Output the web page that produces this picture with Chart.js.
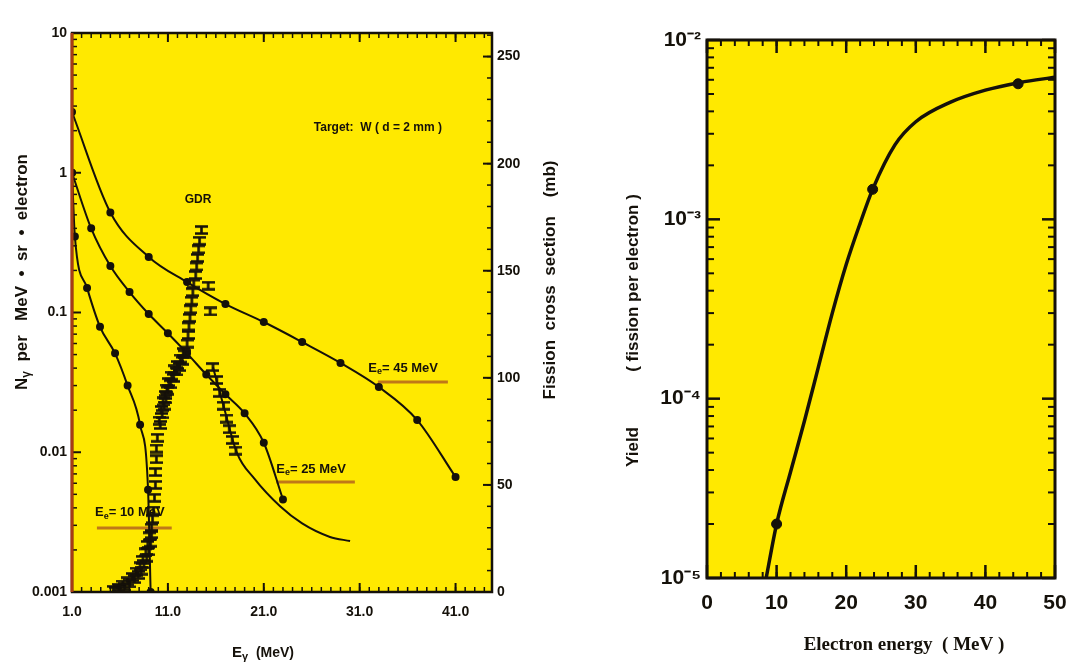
<!DOCTYPE html>
<html><head><meta charset="utf-8">
<script src="https://cdn.jsdelivr.net/npm/chart.js@4.4.1/dist/chart.umd.min.js"></script>
<style>
html,body{margin:0;padding:0;background:#fff;width:1068px;height:670px;overflow:hidden}
canvas{position:absolute;top:0}
#c1{left:0}
#c2{left:575px}
</style></head><body>
<canvas id="c1" width="575" height="670"></canvas>
<canvas id="c2" width="493" height="670"></canvas>
<script>
// ---------- data: left panel (photon spectra, N_gamma per MeV.sr.electron) ----------
const e45E = [1, 5, 9, 13, 17, 21, 25, 29, 33, 37, 41];
const e45N = [2.72, 0.52, 0.25, 0.165, 0.115, 0.0855, 0.0615, 0.0436, 0.0293, 0.017, 0.00665];
const e25E = [1, 3, 5, 7, 9, 11, 13, 15, 17, 19, 21, 23];
const e25N = [1.0, 0.40, 0.215, 0.14, 0.0975, 0.071, 0.051, 0.036, 0.026, 0.019, 0.0117, 0.0046];
const e10E = [1, 1.3, 2.57, 3.92, 5.49, 6.8, 8.1, 8.93, 9.2];
const e10N = [1.0, 0.35, 0.15, 0.079, 0.051, 0.03, 0.0157, 0.0054, 0.001];
// GDR photofission cross-section data (mb, right axis)
const gdrE = [5.3, 5.5, 5.8, 6.0, 6.3, 6.5, 6.8, 7.0, 7.3, 7.5, 7.7, 7.9, 8.1, 8.2, 8.4, 8.5, 8.7, 8.8, 8.9, 9.0, 9.1, 9.2, 9.3, 9.3, 9.4, 9.5,
  9.6, 9.7, 9.7, 9.8, 9.8, 9.9,
  10.1, 10.2, 10.3, 10.4, 10.5, 10.6, 10.7, 10.8, 10.9, 11.0, 11.1, 11.3, 11.4, 11.6, 11.7, 11.9, 12.0, 12.2, 12.3, 12.5, 12.6, 12.7,
  13.0, 13.1, 13.2, 13.3, 13.4, 13.5, 13.6, 13.7, 13.9, 14.0, 14.1, 14.2, 14.3, 14.5,
  15.2, 15.4,
  15.7, 16.1, 16.4, 16.8, 17.1, 17.4, 17.7, 18.1];
const gdrMb = [1, 0.5, 2, 1.5, 3.5, 2.5, 5, 4, 7, 6, 9.5, 8, 12, 10, 15, 13, 18.5, 16, 22, 19, 26, 23, 30, 27, 34, 38,
  44, 50, 56, 62, 67, 72,
  80, 78, 85, 83, 89, 87, 92, 90, 95, 94, 98, 97, 101, 100, 104, 103, 106, 105, 109, 108, 112, 111,
  116, 120, 124, 128, 132, 136, 140, 144, 148, 152, 156, 160, 164, 169,
  143, 131,
  105, 99, 93, 87, 81, 76, 71, 66];
const fitE = [15.7, 16.8, 18.2, 20, 22.7, 25, 27.9, 30];
const fitMb = [105, 87, 65, 53, 40, 32, 25.7, 23.8];
// tick labels left panel
const leftXTicks = [1, 11, 21, 31, 41];
const leftYTicks = [0.001, 0.01, 0.1, 1, 10];
const leftYLabels = ['0.001', '0.01', '0.1', '1', '10'];
const sigmaTicks = [0, 50, 100, 150, 200, 250];

// ---------- data: right panel (fission yield per electron) ----------
const yieldE = [8.5, 10, 12, 14, 16, 18, 20, 22, 23.8, 27, 30, 35, 40, 45, 50];
const yieldV = [1.0e-5, 2.0e-5, 3.9e-5, 7.5e-5, 1.5e-4, 3.0e-4, 5.6e-4, 9.5e-4, 1.47e-3, 2.6e-3, 3.5e-3, 4.5e-3, 5.25e-3, 5.8e-3, 6.2e-3];
const yieldPtE = [10, 23.8, 44.7];
const yieldPtV = [2.0e-5, 1.47e-3, 5.7e-3];
const yieldXTicks = [0, 10, 20, 30, 40, 50];
const yieldYTicks = [1e-5, 1e-4, 1e-3, 1e-2];
const yieldYLabels = ['10\u207B\u2075', '10\u207B\u2074', '10\u207B\u00B3', '10\u207B\u00B2'];

// ---------- styles ----------
const INK = '#15110a';
const YEL = '#FFE900';
const B = s => `bold ${s}px 'Liberation Sans', Arial, sans-serif`;
const BS = s => `bold ${s}px 'Liberation Serif', 'Times New Roman', serif`;
const pts = (xs, ys) => xs.map((x, i) => ({x, y: ys[i]}));

function richText(ctx, parts, x, y, align, rot) {
  ctx.save(); ctx.translate(x, y); if (rot) ctx.rotate(rot);
  let w = 0; for (const p of parts) { ctx.font = p.f; w += ctx.measureText(p.t).width; }
  let cx = align === 'center' ? -w / 2 : align === 'right' ? -w : 0;
  ctx.textBaseline = 'middle'; ctx.textAlign = 'left'; ctx.fillStyle = INK;
  for (const p of parts) { ctx.font = p.f; ctx.fillText(p.t, cx, p.dy || 0); cx += ctx.measureText(p.t).width; }
  ctx.restore();
}
function inward(ctx, a, s, side, values, len, lw) {
  ctx.lineWidth = lw;
  for (const v of values) {
    const p = s.getPixelForValue(v);
    ctx.beginPath();
    if (side === 'bottom') { ctx.moveTo(p, a.bottom); ctx.lineTo(p, a.bottom - len); }
    if (side === 'top') { ctx.moveTo(p, a.top); ctx.lineTo(p, a.top + len); }
    if (side === 'left') { ctx.moveTo(a.left, p); ctx.lineTo(a.left + len, p); }
    if (side === 'right') { ctx.moveTo(a.right, p); ctx.lineTo(a.right - len, p); }
    ctx.stroke();
  }
}
function logMinor(lo, hi) { const r = []; for (let d = lo; d < hi; d *= 10) for (let k = 2; k <= 9; k++) r.push(d * k); return r; }
function range(a, b, st) { const r = []; for (let v = a; v <= b + 1e-9; v += st) r.push(v); return r; }

// error-bar glyph for GDR data
const bar = document.createElement('canvas'); bar.width = 13; bar.height = 10;
(() => { const g = bar.getContext('2d'); g.strokeStyle = INK; g.lineWidth = 2.6;
  g.beginPath(); g.moveTo(0, 1.5); g.lineTo(13, 1.5); g.moveTo(0, 8.5); g.lineTo(13, 8.5); g.moveTo(6.5, 1); g.lineTo(6.5, 9); g.stroke(); })();

// ---------- left panel plugin ----------
const leftPlugin = {
  id: 'leftDeco',
  beforeDraw(chart) {
    const {ctx, chartArea: a} = chart;
    ctx.save(); ctx.fillStyle = YEL; ctx.fillRect(a.left, a.top, a.right - a.left, a.bottom - a.top); ctx.restore();
  },
  beforeDatasetsDraw(chart) {
    const {ctx, scales: {x, y}} = chart;
    const X = v => x.getPixelForValue(v), Y = v => y.getPixelForValue(v);
    richText(ctx, [{t: 'Target:  W ( d = 2 mm )', f: B(12)}], X(32.9), Y(2.09), 'center');
    richText(ctx, [{t: 'GDR', f: B(12)}], X(14.15), Y(0.64), 'center');
    const lab = (txt, ex, ey, u1, u2, uy) => {
      richText(ctx, [{t: 'E', f: B(13)}, {t: 'e', f: B(9), dy: 4}, {t: '= ' + txt, f: B(13)}], X(ex), Y(ey), 'left');
      ctx.save(); ctx.strokeStyle = '#c07818'; ctx.lineWidth = 3;
      ctx.beginPath(); ctx.moveTo(X(u1), Y(uy)); ctx.lineTo(X(u2), Y(uy)); ctx.stroke(); ctx.restore();
    };
    lab('45 MeV', 31.9, 0.0401, 32.9, 40.2, 0.0318);
    lab('25 MeV', 22.3, 0.00759, 22.3, 30.5, 0.00612);
    lab('10 MeV', 3.4, 0.00373, 3.6, 11.4, 0.00287);
  },
  afterDatasetsDraw(chart) {
    const {ctx, chartArea: a, scales: {x, y, y2}} = chart;
    ctx.save(); ctx.strokeStyle = INK;
    const xs = range(1, 44, 1), xm = leftXTicks;
    inward(ctx, a, x, 'bottom', xs, 5, 1.5); inward(ctx, a, x, 'bottom', xm, 9, 2);
    inward(ctx, a, x, 'top', xs, 5, 1.5); inward(ctx, a, x, 'top', xm, 9, 2);
    inward(ctx, a, y, 'left', logMinor(0.001, 10), 5, 1.5); inward(ctx, a, y, 'left', leftYTicks, 9, 2);
    inward(ctx, a, y2, 'right', range(0, 260, 10), 5, 1.5); inward(ctx, a, y2, 'right', sigmaTicks, 9, 2);
    ctx.lineWidth = 2.5; ctx.strokeRect(a.left, a.top, a.right - a.left, a.bottom - a.top);
    ctx.strokeStyle = '#a83c14'; ctx.lineWidth = 3;
    ctx.beginPath(); ctx.moveTo(a.left, a.top); ctx.lineTo(a.left, a.bottom); ctx.stroke();
    ctx.restore();
  },
  afterDraw(chart) {
    const {ctx} = chart;
    richText(ctx, [{t: 'N', f: B(17)}, {t: '\u03B3', f: B(12), dy: 5}, {t: '  per   MeV  \u2022  sr  \u2022  electron', f: B(17)}], 22, 272, 'center', -Math.PI / 2);
    richText(ctx, [{t: 'Fission  cross  section    (mb)', f: B(17)}], 550, 280, 'center', -Math.PI / 2);
    richText(ctx, [{t: 'E', f: B(15)}, {t: '\u03B3', f: B(11), dy: 4}, {t: '  (MeV)', f: B(14)}], 263, 653, 'center');
  }
};

// ---------- right panel plugin ----------
const rightPlugin = {
  id: 'rightDeco',
  beforeDraw(chart) {
    const {ctx, chartArea: a} = chart;
    ctx.save(); ctx.fillStyle = YEL; ctx.fillRect(a.left, a.top, a.right - a.left, a.bottom - a.top); ctx.restore();
  },
  afterDatasetsDraw(chart) {
    const {ctx, chartArea: a, scales: {x, y}} = chart;
    ctx.save(); ctx.strokeStyle = INK;
    const xs = range(0, 50, 2);
    inward(ctx, a, x, 'bottom', xs, 6, 2); inward(ctx, a, x, 'bottom', yieldXTicks, 13, 2.5);
    inward(ctx, a, x, 'top', xs, 6, 2); inward(ctx, a, x, 'top', yieldXTicks, 13, 2.5);
    inward(ctx, a, y, 'left', logMinor(1e-5, 1e-2), 7, 2); inward(ctx, a, y, 'left', yieldYTicks, 13, 2.5);
    inward(ctx, a, y, 'right', logMinor(1e-5, 1e-2), 7, 2); inward(ctx, a, y, 'right', yieldYTicks, 13, 2.5);
    ctx.lineWidth = 3; ctx.strokeRect(a.left, a.top, a.right - a.left, a.bottom - a.top);
    ctx.restore();
  },
  afterDraw(chart) {
    const {ctx} = chart;
    richText(ctx, [{t: 'Electron energy  ( MeV )', f: BS(19)}], 904 - 575, 645, 'center');
    richText(ctx, [{t: 'Yield', f: B(17)}], 633 - 575, 447, 'center', -Math.PI / 2);
    richText(ctx, [{t: '( fission per electron )', f: B(17)}], 633 - 575, 283, 'center', -Math.PI / 2);
  }
};

const noPadX = s => { s.paddingLeft = 0; s.paddingRight = 0; };
const noPadY = s => { s.paddingTop = 0; s.paddingBottom = 0; };

new Chart(document.getElementById('c1'), {
  type: 'line',
  data: { datasets: [
    {data: pts(e45E, e45N), yAxisID: 'y', borderColor: INK, backgroundColor: INK, borderWidth: 2, pointRadius: 3, cubicInterpolationMode: 'monotone'},
    {data: pts(e25E, e25N), yAxisID: 'y', borderColor: INK, backgroundColor: INK, borderWidth: 2, pointRadius: 3, cubicInterpolationMode: 'monotone'},
    {data: pts(e10E, e10N), yAxisID: 'y', borderColor: INK, backgroundColor: INK, borderWidth: 2, pointRadius: 3, cubicInterpolationMode: 'monotone'},
    {type: 'scatter', data: pts(gdrE, gdrMb), yAxisID: 'y2', pointStyle: bar, pointRadius: 4, showLine: false},
    {data: pts(fitE, fitMb), yAxisID: 'y2', borderColor: INK, borderWidth: 2, pointRadius: 0, cubicInterpolationMode: 'monotone'}
  ]},
  options: {
    responsive: false, animation: false, devicePixelRatio: 1,
    layout: {padding: {top: 33, left: 0, right: 0, bottom: 0}},
    plugins: {legend: {display: false}, tooltip: {enabled: false}},
    scales: {
      x: {type: 'linear', min: 1, max: 44.8, grid: {display: false, drawTicks: false}, border: {display: false},
        ticks: {font: {family: "'Liberation Sans', Arial, sans-serif", size: 14, weight: 'bold'}, color: INK, padding: 12, maxRotation: 0, autoSkip: false, callback: v => Number(v).toFixed(1)},
        afterBuildTicks: s => { s.ticks = leftXTicks.map(v => ({value: v})); },
        afterFit: s => { s.height = 78; noPadX(s); }},
      y: {type: 'logarithmic', position: 'left', min: 0.001, max: 10, grid: {display: false, drawTicks: false}, border: {display: false},
        ticks: {font: {family: "'Liberation Sans', Arial, sans-serif", size: 14, weight: 'bold'}, color: INK, padding: 5, autoSkip: false, callback: (v, i) => leftYLabels[i]},
        afterBuildTicks: s => { s.ticks = leftYTicks.map(v => ({value: v})); },
        afterFit: s => { s.width = 72; noPadY(s); }},
      y2: {type: 'linear', position: 'right', min: 0, max: 261, grid: {display: false, drawTicks: false}, border: {display: false},
        ticks: {font: {family: "'Liberation Sans', Arial, sans-serif", size: 14, weight: 'bold'}, color: INK, padding: 5, autoSkip: false, callback: v => String(v)},
        afterBuildTicks: s => { s.ticks = sigmaTicks.map(v => ({value: v})); },
        afterFit: s => { s.width = 83; noPadY(s); }}
    }
  },
  plugins: [leftPlugin]
});

new Chart(document.getElementById('c2'), {
  type: 'line',
  data: { datasets: [
    {data: pts(yieldE, yieldV), borderColor: INK, borderWidth: 3.5, pointRadius: 0, cubicInterpolationMode: 'monotone'},
    {type: 'scatter', data: pts(yieldPtE, yieldPtV), backgroundColor: INK, borderColor: INK, pointRadius: 5, showLine: false}
  ]},
  options: {
    responsive: false, animation: false, devicePixelRatio: 1,
    layout: {padding: {top: 40, left: 0, right: 13, bottom: 0}},
    plugins: {legend: {display: false}, tooltip: {enabled: false}},
    scales: {
      x: {type: 'linear', min: 0, max: 50, grid: {display: false, drawTicks: false}, border: {display: false},
        ticks: {font: {family: "'Liberation Sans', Arial, sans-serif", size: 21, weight: 'bold'}, color: INK, padding: 13, maxRotation: 0, autoSkip: false, callback: v => String(v)},
        afterBuildTicks: s => { s.ticks = yieldXTicks.map(v => ({value: v})); },
        afterFit: s => { s.height = 92; noPadX(s); }},
      y: {type: 'logarithmic', position: 'left', min: 1e-5, max: 1e-2, grid: {display: false, drawTicks: false}, border: {display: false},
        ticks: {font: {family: "'Liberation Sans', Arial, sans-serif", size: 21, weight: 'bold'}, color: INK, padding: 6, autoSkip: false, callback: (v, i) => yieldYLabels[i]},
        afterBuildTicks: s => { s.ticks = yieldYTicks.map(v => ({value: v})); },
        afterFit: s => { s.width = 132; noPadY(s); }}
    }
  },
  plugins: [rightPlugin]
});
</script>
</body></html>
